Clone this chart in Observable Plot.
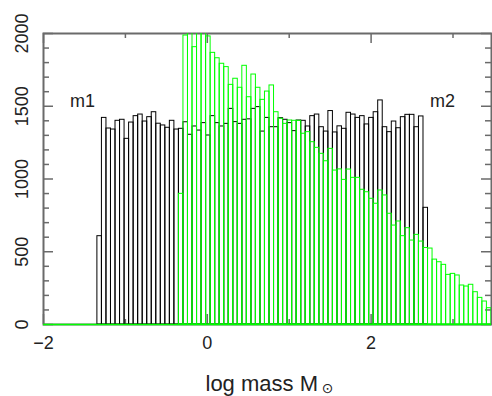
<!DOCTYPE html>
<html>
<head>
<meta charset="utf-8">
<script src="https://cdn.jsdelivr.net/npm/d3@7"></script>
<script src="https://cdn.jsdelivr.net/npm/@observablehq/plot@0.6"></script>
<style>
  body { margin: 0; background: #fff; }
  #chart svg { display: block; }
</style>
</head>
<body>
<div id="chart"></div>
<script>
// ---- data ----
const binStart = -1.342;   // left edge of first bin (log mass)
const binWidth = 0.0553;   // bin width (log mass)

// m1 histogram counts, starting at bin 0
const m1Counts = [
  607, 1420, 1347, 1340, 1400, 1407, 1276, 1388, 1432, 1443,
  1395, 1425, 1459, 1380, 1368, 1352, 1400, 1340, 1345, 1390,
  1304, 1361, 1333, 1384, 1299, 1432, 1384, 1361, 1379, 1482,
  1391, 1379, 1407, 1410, 1482, 1494, 1326, 1420, 1356, 1356,
  1418, 1407, 1384, 1329, 1402, 1400, 1361, 1432, 1443, 1356,
  1326, 1467, 1320, 1362, 1345, 1455, 1443, 1420, 1432, 1375,
  1420, 1459, 1540, 1356, 1322, 1395, 1349, 1425, 1441, 1441,
  1356, 1430, 802
];

// m2 histogram counts, starting at bin 18
const m2FirstBin = 18;
const m2Counts = [
  898, 1986, 2080, 1906, 2100, 2060, 1980, 1867, 1830, 1792,
  1769, 1647, 1689, 1627, 1778, 1562, 1718, 1627, 1544, 1601,
  1643, 1459, 1414, 1379, 1402, 1400, 1400, 1311, 1322, 1253,
  1214, 1173, 1122, 1207, 1058, 1066, 994, 1065, 1008, 1008,
  926, 909, 864, 830, 921, 887, 761, 680, 708, 607,
  662, 577, 616, 570, 526, 522, 446, 428, 410, 341,
  348, 337, 268, 261, 273, 222, 183, 158, 112
];

const xTickMajor = [-2, 0, 2];
const xTickMinor = [-1, 1, 3];
const xTickLabels = ["\u22122", "0", "2"];
const yTickMajor = [0, 500, 1000, 1500, 2000];
const yTickMinor = [100, 200, 300, 400, 600, 700, 800, 900, 1100, 1200, 1300, 1400, 1600, 1700, 1800, 1900];
const yTickLabels = ["0", "500", "1000", "1500", "2000"];

const seriesNames = ["m1", "m2"];
const seriesLabelX = [-1.524, 2.872];
const seriesLabelY = [1533, 1533];

const xTitle = "log mass M";
const xTitleSub = "\u2299";

// ---- tables ----
const m1Table = m1Counts.map((c, i) => ({
  x1: binStart + i * binWidth, x2: binStart + (i + 1) * binWidth, count: c
}));
const m2Table = m2Counts.map((c, i) => ({
  x1: binStart + (m2FirstBin + i) * binWidth, x2: binStart + (m2FirstBin + i + 1) * binWidth, count: c
}));

// ---- layout ----
const W = 492, H = 396;
const mL = 43, mR = 1, mT = 33, mB = 72;
const plotW = W - mL - mR, plotH = H - mT - mB;
const axisColor = "#6a6a6a";
const green = "#00ff00";
const font = "'Liberation Sans', Arial, Helvetica, sans-serif";

const chart = Plot.plot({
  width: W, height: H,
  marginLeft: mL, marginRight: mR, marginTop: mT, marginBottom: mB,
  x: { domain: [-2, 3.47], axis: null },
  y: { domain: [0, 2000], axis: null },
  style: { fontFamily: font, background: "#fff" },
  marks: [
    Plot.frame({ stroke: axisColor, strokeWidth: 2 }),
    // x ticks, top and bottom, pointing inward
    Plot.tickX(xTickMajor, { x: d => d, insetBottom: plotH - 10, stroke: axisColor, strokeWidth: 1.5 }),
    Plot.tickX(xTickMajor, { x: d => d, insetTop: plotH - 10, stroke: axisColor, strokeWidth: 1.5 }),
    Plot.tickX(xTickMinor, { x: d => d, insetBottom: plotH - 5, stroke: axisColor, strokeWidth: 1.5 }),
    Plot.tickX(xTickMinor, { x: d => d, insetTop: plotH - 5, stroke: axisColor, strokeWidth: 1.5 }),
    // y ticks, left and right, pointing inward
    Plot.tickY(yTickMajor, { y: d => d, insetRight: plotW - 10, stroke: axisColor, strokeWidth: 1.5 }),
    Plot.tickY(yTickMajor, { y: d => d, insetLeft: plotW - 10, stroke: axisColor, strokeWidth: 1.5 }),
    Plot.tickY(yTickMinor, { y: d => d, insetRight: plotW - 6, stroke: axisColor, strokeWidth: 1.5 }),
    Plot.tickY(yTickMinor, { y: d => d, insetLeft: plotW - 6, stroke: axisColor, strokeWidth: 1.5 }),
    // histograms
    Plot.rectY(m1Table, { x1: "x1", x2: "x2", y: "count", fill: "none", stroke: "#000", strokeWidth: 1, inset: 0, clip: true }),
    Plot.rectY(m2Table, { x1: "x1", x2: "x2", y: "count", fill: "none", stroke: green, strokeWidth: 1, inset: 0, clip: true }),
    Plot.ruleY([0], { stroke: green, strokeWidth: 1.5 }),
    // tick labels
    Plot.text(xTickMajor, { x: d => d, frameAnchor: "bottom", dy: 19, text: (d, i) => xTickLabels[i], fontSize: 18, fill: "#222", textAnchor: "middle", lineAnchor: "middle" }),
    Plot.text(yTickMajor, { y: d => d, frameAnchor: "left", dx: -21, rotate: -90, text: (d, i) => yTickLabels[i], fontSize: 18, fill: "#222", textAnchor: "middle", lineAnchor: "middle" }),
    // series labels
    Plot.text(seriesNames, { x: (d, i) => seriesLabelX[i], y: (d, i) => seriesLabelY[i], text: d => d, fontSize: 18, fill: "#222", lineAnchor: "middle" }),
    // x title with subscript sun symbol
    Plot.text([xTitle], { frameAnchor: "bottom-left", dx: 162, dy: 59, text: d => d, textAnchor: "start", lineAnchor: "middle", fontSize: 22, fill: "#222" }),
    Plot.text([xTitleSub], { frameAnchor: "bottom-left", dx: 284, dy: 64, text: d => d, textAnchor: "middle", lineAnchor: "middle", fontSize: 14, fill: "#222", fontFamily: "'DejaVu Sans', sans-serif" })
  ]
});

document.getElementById("chart").append(chart);
</script>
</body>
</html>
